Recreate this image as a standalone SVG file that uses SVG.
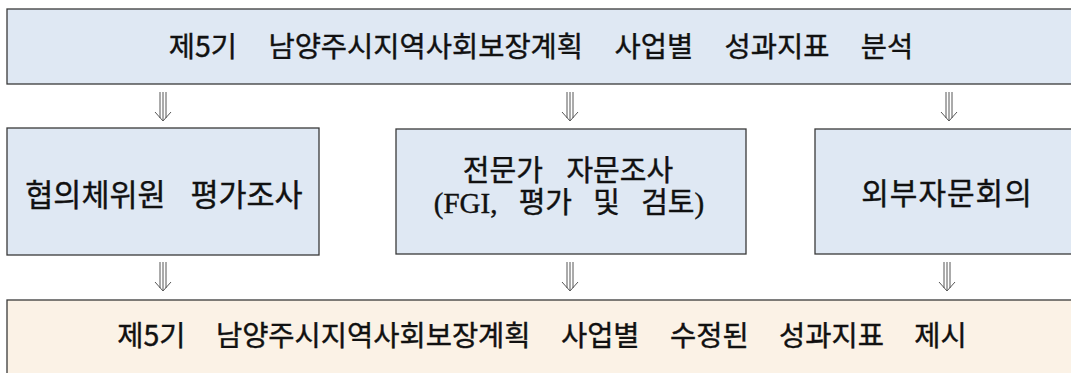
<svg xmlns="http://www.w3.org/2000/svg" width="1071" height="373" viewBox="0 0 1071 373">
<style>
.box{fill:#dfe8f3;stroke:#3a3a3a;stroke-width:1.3}
.res{fill:#fbf2e6;stroke:#3a3a3a;stroke-width:1.3}
.t{font-family:"Noto Sans CJK KR","Liberation Sans",sans-serif;font-weight:400;fill:#111;stroke:#111;stroke-width:0.4;text-anchor:middle}
.ar{fill:none;stroke:#444;stroke-width:0.9}
</style>
<defs>
<g id="arr">
<path class="ar" d="M-3,0V26M0,0V28M3,0V26M-8,20L0,29L8,20"/>
</g>
</defs>
<rect width="1071" height="373" fill="#fff"/>
<g id="n-top">
<rect class="box" x="7" y="9" width="1070" height="75"/>
<text class="t" x="541" y="57" font-size="28.5" word-spacing="25">제5기 남양주시지역사회보장계획 사업별 성과지표 분석</text>
</g>
<g id="n-left">
<rect class="box" x="7" y="128" width="312" height="127"/>
<text class="t" x="164" y="206" font-size="30.5" word-spacing="18">협의체위원 평가조사</text>
</g>
<g id="n-mid">
<rect class="box" x="396" y="129" width="350" height="125"/>
<text class="t" x="568" y="181" font-size="29" word-spacing="17">전문가 자문조사</text>
<text class="t" x="569" y="213" font-size="29" word-spacing="14" style="font-family:'Liberation Serif','Noto Sans CJK KR',serif">(FGI, 평가 및 검토)</text>
</g>
<g id="n-right">
<rect class="box" x="815" y="129" width="262" height="125"/>
<text class="t" x="947" y="204" font-size="30" letter-spacing="1">외부자문회의</text>
</g>
<g id="n-bottom">
<rect class="res" x="7" y="300" width="1070" height="80"/>
<text class="t" x="542" y="346" font-size="28.5" word-spacing="24">제5기 남양주시지역사회보장계획 사업별 수정된 성과지표 제시</text>
</g>
<g id="connectors">
<use href="#arr" x="163" y="92"/>
<use href="#arr" x="570" y="92"/>
<use href="#arr" x="949" y="92"/>
<use href="#arr" x="163" y="262"/>
<use href="#arr" x="570" y="262"/>
<use href="#arr" x="947" y="262"/>
</g>
</svg>
